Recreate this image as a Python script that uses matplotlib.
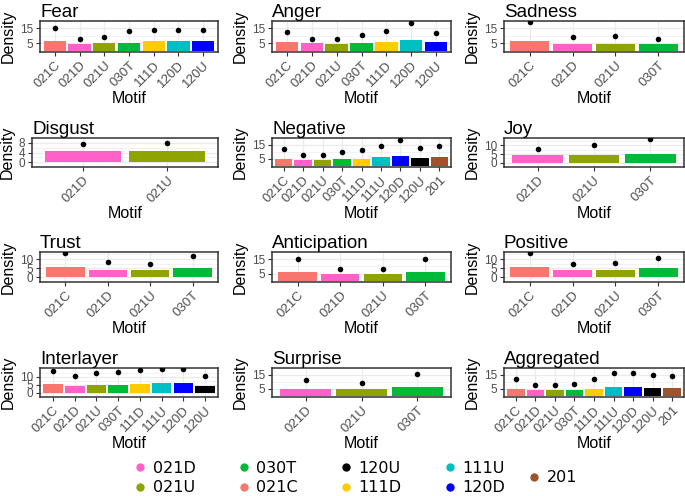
import matplotlib
matplotlib.use('Agg')
import matplotlib.pyplot as plt
from matplotlib.lines import Line2D

plt.rcParams['font.family'] = ['Liberation Sans', 'DejaVu Sans']

# ---------------- data ----------------
SALMON, PINK, OLIVE, GREEN = '#F8766D', '#FF61C9', '#8FA400', '#00BA38'
GOLD, CYAN, BLUE, BLACK, SIENNA = '#FFCC00', '#00BFC4', '#0000FF', '#000000', '#A0522D'

legend_colors = {
    '021C': SALMON, '021D': PINK, '021U': OLIVE, '030T': GREEN,
    '111D': GOLD, '111U': CYAN, '120D': BLUE, '120U': BLACK, '201': SIENNA,
}

fear_motifs = ['021C', '021D', '021U', '030T', '111D', '120D', '120U']
fear_bars = [6.4, 4.5, 5.0, 5.5, 6.4, 6.4, 6.6]
fear_points = [15.0, 8.0, 9.6, 13.1, 14.3, 14.3, 14.3]

anger_motifs = ['021C', '021D', '021U', '030T', '111D', '120D', '120U']
anger_bars = [5.7, 5.0, 4.3, 5.2, 5.7, 6.9, 5.7]
anger_points = [12.6, 7.6, 7.6, 10.5, 13.1, 18.6, 11.7]

sadness_motifs = ['021C', '021D', '021U', '030T']
sadness_bars = [6.2, 4.5, 4.3, 4.3]
sadness_points = [19.0, 9.0, 9.8, 7.9]

disgust_motifs = ['021D', '021U']
disgust_bars = [4.5, 4.5]
disgust_points = [7.5, 8.0]

negative_motifs = ['021C', '021D', '021U', '030T', '111D', '111U', '120D', '120U', '201']
negative_bars = [5.2, 4.3, 4.3, 4.8, 5.0, 6.2, 6.7, 5.5, 6.2]
negative_points = [12.1, 7.6, 7.6, 10.2, 11.4, 14.3, 18.3, 12.6, 14.3]

joy_motifs = ['021D', '021U', '030T']
joy_bars = [4.4, 4.4, 5.1]
joy_points = [8.2, 10.4, 13.6]

trust_motifs = ['021C', '021D', '021U', '030T']
trust_bars = [5.5, 4.3, 3.8, 4.9]
trust_points = [13.2, 8.2, 7.2, 11.5]

anticipation_motifs = ['021C', '021D', '021U', '030T']
anticipation_bars = [6.3, 4.8, 4.8, 6.3]
anticipation_points = [15.4, 8.4, 8.2, 15.0]

positive_motifs = ['021C', '021D', '021U', '030T']
positive_bars = [5.5, 4.3, 4.2, 4.9]
positive_points = [13.2, 7.4, 8.0, 10.5]

interlayer_motifs = ['021C', '021D', '021U', '030T', '111D', '111U', '120D', '120U']
interlayer_bars = [5.4, 4.6, 5.0, 5.2, 5.6, 6.0, 6.0, 4.6]
interlayer_points = [13.6, 10.4, 12.6, 13.0, 14.4, 14.8, 14.8, 10.4]

surprise_motifs = ['021D', '021U', '030T']
surprise_bars = [5.3, 4.8, 6.5]
surprise_points = [11.5, 9.5, 15.5]

aggregated_motifs = ['021C', '021D', '021U', '030T', '111D', '111U', '120D', '120U', '201']
aggregated_bars = [5.2, 4.4, 4.2, 4.4, 5.2, 6.3, 6.3, 6.0, 6.0]
aggregated_points = [12.1, 7.7, 7.9, 8.8, 12.1, 16.3, 16.3, 15.0, 14.2]

panel_titles = ['Fear', 'Anger', 'Sadness', 'Disgust', 'Negative', 'Joy',
                'Trust', 'Anticipation', 'Positive', 'Interlayer', 'Surprise', 'Aggregated']
panel_yticks = [[5, 15], [5, 15], [5, 15], [0, 4, 8], [5, 15], [0, 5, 10],
                [0, 5, 10], [5, 15], [0, 5, 10], [0, 5, 10], [5, 15], [5, 15]]

legend_order = ['021D', '021U', '030T', '021C', '120U', '111D', '111U', '120D']
legend_extra = ['201']

# fill colours as they appear in each panel (Fear/Anger use a shifted palette)
seven_palette = [SALMON, PINK, OLIVE, GREEN, GOLD, CYAN, BLUE]
panels = [
    (fear_motifs, fear_bars, fear_points, seven_palette),
    (anger_motifs, anger_bars, anger_points, seven_palette),
    (sadness_motifs, sadness_bars, sadness_points, None),
    (disgust_motifs, disgust_bars, disgust_points, None),
    (negative_motifs, negative_bars, negative_points, None),
    (joy_motifs, joy_bars, joy_points, None),
    (trust_motifs, trust_bars, trust_points, None),
    (anticipation_motifs, anticipation_bars, anticipation_points, None),
    (positive_motifs, positive_bars, positive_points, None),
    (interlayer_motifs, interlayer_bars, interlayer_points, None),
    (surprise_motifs, surprise_bars, surprise_points, None),
    (aggregated_motifs, aggregated_bars, aggregated_points, None),
]

# ---------------- layout ----------------
W, H = 685, 496
fig = plt.figure(figsize=(W / 100, H / 100), dpi=100)

col_left = [40, 272, 504]
col_right = [218, 451, 684]
row_top = [21, 138, 252, 368]
row_bot = [52, 167, 282, 397]

GRID = '#EBEBEB'
BORDER = '#333333'
TICKTXT = '#4D4D4D'

for i, ((motifs, bars, points, pal), title, yt) in enumerate(zip(panels, panel_titles, panel_yticks)):
    r, c = divmod(i, 3)
    left = col_left[c]
    if max(len(str(t)) for t in yt) == 1:
        left -= 8
    right = col_right[c]
    ax = fig.add_axes([left / W, 1 - row_bot[r] / H, (right - left) / W,
                       (row_bot[r] - row_top[r]) / H])
    x = list(range(1, len(motifs) + 1))
    colors = pal if pal is not None else [legend_colors[m] for m in motifs]
    ax.bar(x, bars, width=0.9, color=colors, zorder=2)
    ax.scatter(x, points, s=16, color='black', zorder=3, linewidths=0)
    m = max(max(points), max(bars))
    ax.set_xlim(0.4, len(motifs) + 0.6)
    ax.set_ylim(-0.05 * m, 1.05 * m)
    ax.set_xticks(x)
    ax.set_xticklabels(motifs, rotation=45, ha='right', rotation_mode='anchor',
                       fontsize=9.5, color=TICKTXT)
    ax.set_yticks(yt)
    ax.set_yticklabels([str(t) for t in yt], fontsize=8.5, color=TICKTXT)
    step = yt[1] - yt[0]
    minors = [yt[0] - step / 2] + [t + step / 2 for t in yt]
    ax.set_yticks(minors, minor=True)
    ax.tick_params(axis='y', which='minor', length=0)
    ax.tick_params(which='major', length=3, color=BORDER, width=0.8, pad=2)
    ax.grid(which='major', color=GRID, lw=0.9, zorder=0)
    ax.grid(which='minor', axis='y', color=GRID, lw=0.45, zorder=0)
    ax.set_axisbelow(True)
    for s in ax.spines.values():
        s.set_color(BORDER)
        s.set_linewidth(1.1)
    ax.set_title(title, loc='left', fontsize=13.5, pad=3)
    ax.set_ylabel('Density', fontsize=11.5, labelpad=3)
    ax.set_xlabel('Motif', fontsize=11.5, labelpad=1)

handles = [Line2D([], [], marker='o', linestyle='none', markersize=6,
                  markerfacecolor=legend_colors[m], markeredgewidth=0) for m in legend_order]
fig.legend(handles, legend_order, ncol=4, loc='center left',
           bbox_to_anchor=(132 / W, 1 - 478 / H), frameon=False,
           prop={'family': 'DejaVu Sans', 'size': 11.5}, handlelength=1.0,
           handletextpad=0.3, columnspacing=2.5, labelspacing=0.3, borderpad=0,
           borderaxespad=0)
h2 = [Line2D([], [], marker='o', linestyle='none', markersize=6,
             markerfacecolor=legend_colors[m], markeredgewidth=0) for m in legend_extra]
fig.legend(h2, legend_extra, loc='center left',
           bbox_to_anchor=(526 / W, 1 - 478 / H), frameon=False,
           prop={'family': 'DejaVu Sans', 'size': 11.5}, handlelength=1.0,
           handletextpad=0.3, borderpad=0, borderaxespad=0)

fig.savefig('out.png', dpi=100)
